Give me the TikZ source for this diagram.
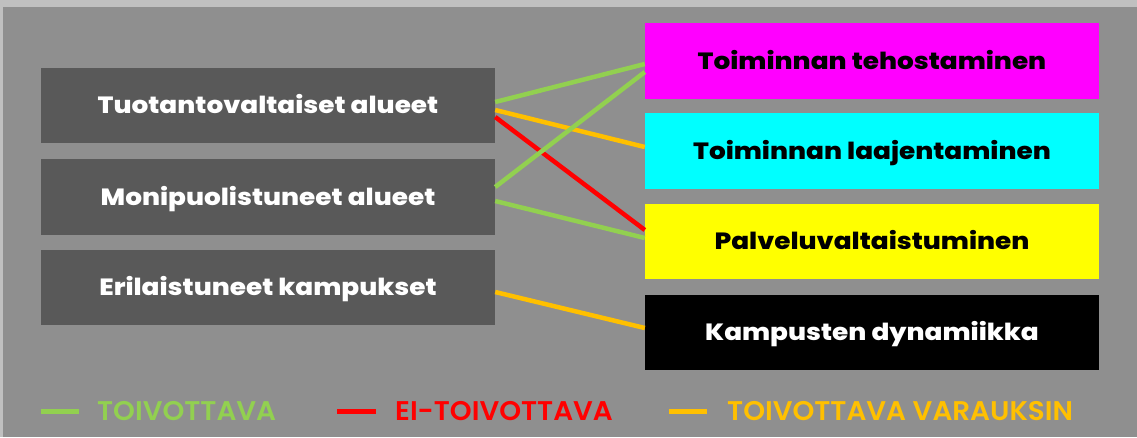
\documentclass[tikz,border=0pt]{standalone}
\usepackage{fontspec}
\newfontfamily\boxfont{Poppins ExtraBold}[FakeStretch=1.12]
\newfontfamily\legfont{Poppins SemiBold}[FakeStretch=1.03]
\definecolor{frame}{HTML}{C0C0C0}
\definecolor{canvas}{HTML}{8F8F8F}
\definecolor{darkbox}{HTML}{595959}
\definecolor{good}{HTML}{92D050}
\definecolor{bad}{HTML}{FF0000}
\definecolor{reserved}{HTML}{FFC000}
\definecolor{pinkfill}{HTML}{FF00FF}
\definecolor{cyanfill}{HTML}{00FFFF}
\definecolor{yellowfill}{HTML}{FFFF00}
\tikzset{
  boxbase/.style={minimum width=454pt, minimum height=75.5pt, inner sep=0pt,
    text height=16pt, text depth=0pt,
    font=\boxfont\fontsize{23.5}{26}\selectfont},
  region/.style={boxbase, fill=darkbox, text=white},
  trend/.style={boxbase},
  link/.style={line width=4.5pt},
  legtext/.style={font=\legfont\fontsize{27}{30}\selectfont, inner sep=0pt},
}
\begin{document}
\begin{tikzpicture}[x=1pt, y=-1pt]
  \useasboundingbox (0,0) rectangle (1137,437);
  % frame and canvas
  \fill[frame] (0,0) rectangle (1137,437);
  \fill[canvas] (3,7) rectangle (1137,437);

  % left column: area types
  \node[region] (t1) at (268,105.5) {Tuotantovaltaiset alueet};
  \node[region] (t2) at (268,197) {Monipuolistuneet alueet};
  \node[region] (t3) at (268,287.5) {Erilaistuneet kampukset};

  % right column: development trends
  \node[trend, fill=pinkfill, text=black] (r1) at (872,61) {Toiminnan tehostaminen};
  \node[trend, fill=cyanfill, text=black] (r2) at (872,151) {Toiminnan laajentaminen};
  \node[trend, fill=yellowfill, text=black] (r3) at (872,241.5) {Palveluvaltaistuminen};
  \node[trend, fill=black, text=white] (r4) at (872,332.5) {Kampusten dynamiikka};

  % connections
  \draw[link, good] ([yshift=3.5pt]t1.east) -- ([yshift=-3pt]r1.west);
  \draw[link, reserved] ([yshift=-4.5pt]t1.east) -- ([yshift=4pt]r2.west);
  \draw[link, bad] ([yshift=-11.5pt]t1.east) -- ([yshift=11.5pt]r3.west);
  \draw[link, good] ([yshift=10pt]t2.east) -- ([yshift=-11pt]r1.west);
  \draw[link, good] ([yshift=-4pt]t2.east) -- ([yshift=3.5pt]r3.west);
  \draw[link, reserved] ([yshift=-4.5pt]t3.east) -- ([yshift=4.5pt]r4.west);

  % legend
  \coordinate (g1) at (41,411.5);
  \coordinate (g2) at (79,411.5);
  \coordinate (b1) at (337,411.5);
  \coordinate (b2) at (376,411.5);
  \coordinate (o1) at (669,411.5);
  \coordinate (o2) at (707,411.5);
  \draw[link, good] (g1) -- (g2);
  \draw[link, bad] (b1) -- (b2);
  \draw[link, reserved] (o1) -- (o2);
  \node[legtext, text=good, anchor=west] (lg) at (97,411.5) {TOIVOTTAVA};
  \node[legtext, text=bad, anchor=west] (lb) at (395,411.5) {EI-TOIVOTTAVA};
  \node[legtext, text=reserved, anchor=west] (lo) at (727,411.5) {TOIVOTTAVA VARAUKSIN};
\end{tikzpicture}
\end{document}
